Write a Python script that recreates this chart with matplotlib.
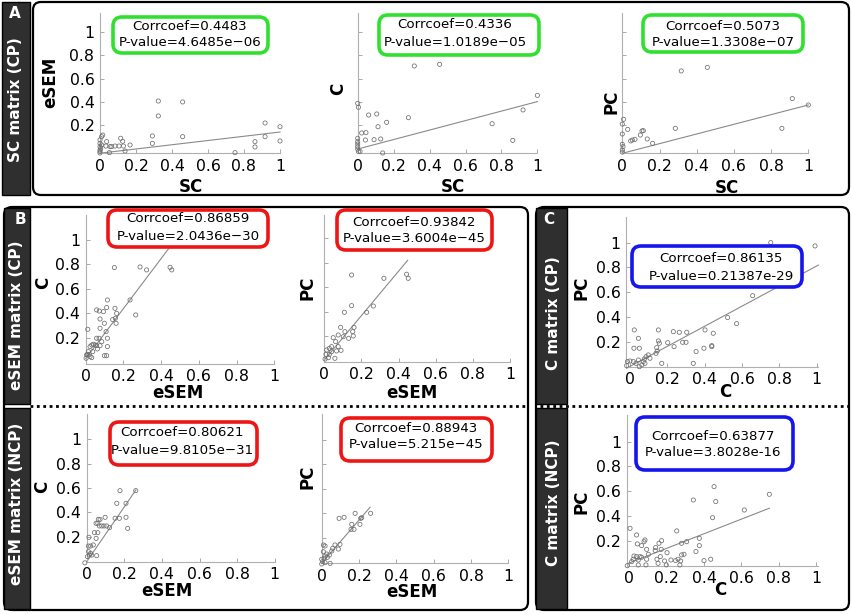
import matplotlib
matplotlib.use("Agg")
import matplotlib.pyplot as plt
from matplotlib.patches import FancyBboxPatch, Rectangle
import numpy as np

plt.rcParams['font.family'] = ['DejaVu Sans']

# ---------------- DATA ----------------
tick_vals = [0, 0.2, 0.4, 0.6, 0.8, 1]
tick_labels = ['0', '0.2', '0.4', '0.6', '0.8', '1']
ytick_vals = [0.2, 0.4, 0.6, 0.8, 1]
ytick_labels = ['0.2', '0.4', '0.6', '0.8', '1']

# Panel A: SC matrix (CP)
sc_esem_x = [0.324, 0.324, 0.459, 0.459, 0.291, 0.291, 0.917, 0.917, 1.0, 1.0, 0.861, 0.861, 0.75,
             0.139, 0.167, 0.130, 0.115, 0.126, 0.106, 0.083, 0.065, 0.056, 0.037, 0.033, 0.015,
             0.009, 0.052, 0, 0, 0, 0, 0, 0, 0.004, 0.009]
sc_esem_y = [0.406, 0.277, 0.398, 0.098, 0.104, 0.040, 0.216, 0.098, 0.184, 0.061, 0.055, 0.009, -0.04,
             -0.026, 0.026, 0.017, 0.084, 0.058, 0.017, 0.017, 0.012, 0.012, 0.055, 0.017, 0.112,
             0.098, -0.04, 0.07, 0.04, 0.012, -0.017, -0.03, -0.043, -0.003, 0.026]

sc_c_x = [0.315, 0.456, 1.0, 0.920, 0.748, 0.863, 0.282, 0.161, 0.106, 0.061, 0.113, 0.022, 0.046,
          0.043, 0.091, 0.128, 0.139, 0, 0.004, 0, 0, 0, 0, 0, 0.004, 0.013]
sc_c_y = [0.709, 0.723, 0.455, 0.329, 0.210, 0.066, 0.262, 0.222, 0.294, 0.285, 0.184, 0.130, 0.133,
          0.069, 0.072, 0.078, -0.043, 0.386, 0.352, 0.084, 0.055, 0.035, 0.012, -0.009, -0.03, -0.03]

sc_pc_x = [0.317, 0.457, 0.914, 1.0, 0.858, 0.285, 0.163, 0.134, 0.113, 0.106, 0.097, 0.068, 0.054,
           0.045, 0.029, 0.007, 0, 0, 0, 0.004, 0, 0]
sc_pc_y = [0.666, 0.697, 0.427, 0.372, 0.170, 0.170, 0.040, 0.078, 0.150, 0.147, 0.112, 0.075, 0.069,
           0.061, 0.161, 0.248, 0.207, 0.121, 0.032, 0.012, -0.017, -0.035]

# Panel B: eSEM matrix (CP)
esem_c_cp_x = [0.152, 0.288, 0.323, 0.447, 0.456, 0.235, 0.265, 0.115, 0.111, 0.155, 0.164, 0.157,
               0.161, 0.143, 0.094, 0.058, 0.072, 0.076, 0.076, 0.099, 0.108, 0.115, 0.115, 0.099,
               0.111, 0.011, 0.058, 0.071, 0.085, 0.076, 0.058, 0.041, 0.032, 0.023, 0.037, 0.014,
               0.009, 0.019, 0.002, 0.023, 0.032, 0.005, 0.051, 0.062]
esem_c_cp_y = [0.772, 0.777, 0.753, 0.774, 0.753, 0.508, 0.386, 0.508, 0.446, 0.440, 0.399, 0.359,
               0.318, 0.348, 0.413, 0.427, 0.418, 0.353, 0.277, 0.318, 0.250, 0.196, 0.128, 0.054,
               0.054, 0.269, 0.196, 0.196, 0.168, 0.136, 0.136, 0.147, 0.141, 0.128, 0.087, 0.087,
               0.065, 0.065, 0.033, 0.046, 0.038, 0.060, 0.141, 0.109]

esem_pc_cp_x = [0.147, 0.321, 0.443, 0.452, 0.147, 0.228, 0.264, 0.108, 0.088, 0.160, 0.153, 0.156,
                0.131, 0.111, 0.102, 0.075, 0.048, 0.061, 0.090, 0.066, 0.039, 0.027, 0.013, 0.009,
                0.027, 0.022, 0.004, 0.057, 0.039, 0.075]
esem_pc_cp_y = [0.701, 0.674, 0.707, 0.674, 0.451, 0.397, 0.448, 0.397, 0.274, 0.274, 0.239, 0.204,
                0.185, 0.239, 0.198, 0.212, 0.190, 0.158, 0.087, 0.082, 0.117, 0.103, 0.090, 0.054,
                0.054, 0.027, 0.016, 0.022, 0.076, 0.117]

# Panel B: eSEM matrix (NCP)
esem_c_ncp_x = [-0.01, 0.177, 0.261, 0.160, 0.209, 0.209, 0.218, 0.151, 0.174, 0.121, 0.098, 0.071,
                0.062, 0.059, 0.050, 0.067, 0.080, 0.092, 0.106, 0.059, 0.041, 0.050, 0.012, 0.035,
                0.021, 0.009, 0.009, 0.021, 0.027, 0.014, 0.053, 0.004]
esem_c_ncp_y = [-0.015, 0.578, 0.578, 0.474, 0.474, 0.359, 0.268, 0.351, 0.351, 0.274, 0.359, 0.342,
                0.342, 0.310, 0.310, 0.288, 0.288, 0.288, 0.288, 0.233, 0.233, 0.186, 0.195, 0.132,
                0.123, 0.123, 0.077, 0.063, 0.049, 0.049, 0.044, 0.036]

esem_pc_ncp_x = [0.262, 0.179, 0.214, 0.209, 0.120, 0.093, 0.161, 0.205, 0.157, 0.173, 0.098, 0.071,
                 0.089, 0.059, 0.054, 0.009, 0.018, 0.009, 0.027, 0.041, 0.018, 0.030, 0.013, 0,
                 0.005, 0.018, 0.045, 0]
esem_pc_ncp_y = [0.398, 0.398, 0.362, 0.357, 0.365, 0.357, 0.308, 0.308, 0.267, 0.267, 0.144, 0.139,
                 0.106, 0.112, 0.090, 0.139, 0.131, 0.084, 0.065, 0.057, 0.049, 0.038, 0.030, 0.022,
                 0.003, -0.005, -0.011, -0.016]

# Panel C: C matrix (CP)
c_pc_cp_x = [0.754, 0.991, 0.657, 0.491, 0.523, 0.571, 0.446, 0.438, 0.438, 0.402, 0.396, 0.354,
             0.339, 0.304, 0.300, 0.282, 0.264, 0.232, 0.236, 0.202, 0.152, 0.152, 0.157, 0.143,
             0.146, 0.139, 0.170, 0.107, 0.098, 0.086, 0.077, 0.071, 0.063, 0.080, 0.050, 0.045,
             0.050, 0.045, 0.023, 0.021, 0.018, 0, -0.014, 0.032, -0.018]
c_pc_cp_y = [1.0, 0.973, 0.571, 0.652, 0.394, 0.345, 0.267, 0.167, 0.159, 0.294, 0.146, 0.119,
             0.024, 0.275, 0.194, 0.194, 0.275, 0.280, 0.159, 0.191, 0.294, 0.205, 0.186, 0.151,
             0.124, 0.105, 0.024, 0.065, 0.092, 0.078, 0.059, 0.038, 0.011, 0.024, -0.003, 0.051,
             0.146, 0.226, 0.294, 0.146, 0.038, 0.043, 0.038, 0.024, 0.005]

# Panel C: C matrix (NCP)
c_pc_ncp_x = [0.454, 0.463, 0.343, 0.75, 0.616, 0.446, 0.254, 0.375, 0.375, 0.357, 0.307, 0.280,
              0.293, 0.280, 0.275, 0.271, 0.436, 0.400, 0.173, 0.159, 0.141, 0.139, 0.171, 0.202,
              0.166, 0.148, 0.154, 0.189, 0.198, 0.223, 0.248, 0.261, 0.084, 0.079, 0.066, 0.043,
              0.039, 0.004, 0.093, 0.102, 0.093, 0.089, 0.057, 0.039, 0.025, 0.021, 0.013, 0.048,
              0.066, 0.048, -0.011]
c_pc_ncp_y = [0.636, 0.515, 0.528, 0.574, 0.447, 0.385, 0.278, 0.218, 0.159, 0.111, 0.191, 0.178,
              0.089, 0.084, 0.035, 0.003, 0.049, 0.038, 0.199, 0.178, 0.143, 0.119, 0.129, 0.102,
              0.070, 0.049, 0.016, 0.035, 0.003, 0.043, 0.038, 0.049, 0.205, 0.191, 0.159, 0.173,
              0.245, 0.299, 0.129, 0.089, 0.049, 0.003, 0.070, 0.070, 0.075, 0.049, 0.030, 0.043,
              0.065, 0.003, -0.003]

# regression lines: (x_start, x_end, slope, intercept)
fit_A1 = (0.0, 1.0, 0.183, -0.045)
fit_A2 = (0.0, 1.0, 0.41, -0.009)
fit_A3 = (0.0, 1.0, 0.418, -0.046)
fit_B1 = (0.0, 0.456, 2.04, 0.03)
fit_B2 = (0.0, 0.449, 1.81, 0.008)
fit_B3 = (0.0, 0.262, 2.25, -0.005)
fit_B4 = (0.0, 0.259, 1.77, -0.011)
fit_C1 = (-0.018, 1.009, 0.812, -0.001)
fit_C2 = (-0.005, 0.75, 0.59, 0.019)

corr_A = ['0.4483', '0.4336', '0.5073']
pval_A = ['4.6485e\u221206', '1.0189e\u221205', '1.3308e\u221207']
corr_B = ['0.86859', '0.93842', '0.80621', '0.88943']
pval_B = ['2.0436e\u221230', '3.6004e\u221245', '9.8105e\u221231', '5.215e\u221245']
corr_C = ['0.86135', '0.63877']
pval_C = ['0.21387e-29', '3.8028e-16']

side_labels = ['SC matrix (CP)', 'eSEM matrix (CP)', 'eSEM matrix (NCP)', 'C matrix (CP)', 'C matrix (NCP)']
panel_letters = ['A', 'B', 'C']

# ---------------- FIGURE ----------------
W, H = 852, 615
fig = plt.figure(figsize=(W / 100, H / 100), dpi=100)
fig.patch.set_facecolor('white')

bg = fig.add_axes([0, 0, 1, 1])
bg.set_xlim(0, W)
bg.set_ylim(H, 0)
bg.axis('off')
bg.set_zorder(0)


def rbox(ax, x0, y0, x1, y1, ec='black', lw=1.6, r=8, fc='white', z=1):
    p = FancyBboxPatch((x0, y0), x1 - x0, y1 - y0,
                       boxstyle=f"round,pad=0,rounding_size={r}",
                       ec=ec, fc=fc, lw=lw, zorder=z)
    ax.add_patch(p)


# panel frames
rbox(bg, 33, 2, 849, 195)
rbox(bg, 4, 207, 528, 610)
rbox(bg, 536, 207, 849, 610)

side_fc = '#2f2f2f'
sidebars = [(2, 2, 30, 195), (4, 208, 30, 404), (4, 408, 30, 609),
            (536, 208, 567, 404), (536, 408, 567, 609)]
side_centers = [(16, 100), (17, 315), (17, 504), (553, 313), (553, 503)]
for (x0, y0, x1, y1), lab, (cx, cy) in zip(sidebars, side_labels, side_centers):
    bg.add_patch(Rectangle((x0, y0), x1 - x0, y1 - y0, fc=side_fc, ec='black', lw=1.0, zorder=2))
    bg.text(cx, cy, lab, color='white', fontsize=11, fontweight='bold', rotation=90,
            ha='center', va='center', zorder=3)

for lt, (lx, ly) in zip(panel_letters, [(15, 13), (20, 219), (549, 219)]):
    bg.text(lx, ly, lt, color='white', fontsize=11, fontweight='bold', ha='center', va='center', zorder=3)

# dotted separators
bg.plot([30, 527], [406, 406], color='black', lw=2.0, ls=(0, (1, 1.3)), zorder=3)
bg.plot([540, 848], [406, 406], color='black', lw=2.0, ls=(0, (1, 1.3)), zorder=3)


def make_axes(x0, sx, y0, sy, xlim, ylim):
    left = x0 + xlim[0] * sx
    right = x0 + xlim[1] * sx
    bottom = y0 - ylim[0] * sy
    top = y0 - ylim[1] * sy
    ax = fig.add_axes([left / W, 1 - bottom / H, (right - left) / W, (bottom - top) / H])
    ax.set_xlim(*xlim)
    ax.set_ylim(*ylim)
    ax.patch.set_alpha(0)
    ax.set_zorder(5)
    for s in ['top', 'right']:
        ax.spines[s].set_visible(False)
    for s in ['left', 'bottom']:
        ax.spines[s].set_color('#b0b0b0')
        ax.spines[s].set_linewidth(0.8)
    ax.tick_params(direction='in', length=3, width=0.6, color='#9a9a9a',
                   labelsize=11.3, pad=4, labelcolor='black')
    ax._px = (left, right, top, bottom)
    return ax


def set_labels(ax, xl, yl, xpos, ypos):
    left, right, top, bottom = ax._px
    ax.set_xlabel(xl, fontsize=12, fontweight='bold')
    ax.set_ylabel(yl, fontsize=12, fontweight='bold')
    ax.xaxis.set_label_coords((xpos[0] - left) / (right - left), (bottom - xpos[1]) / (bottom - top))
    ax.yaxis.set_label_coords((ypos[0] - left) / (right - left), (bottom - ypos[1]) / (bottom - top))
    ax.xaxis.label.set_va('center')
    ax.xaxis.label.set_ha('center')
    ax.yaxis.label.set_va('center')
    ax.yaxis.label.set_ha('center')


specs = [
    (100, 180, 148, 115.7, (0, 1), (-0.043, 1.167), sc_esem_x, sc_esem_y, fit_A1, 'SC', 'eSEM', (191, 187), (50, 82), True),
    (357.7, 179.7, 148, 115.7, (0, 1), (-0.043, 1.167), sc_c_x, sc_c_y, fit_A2, 'SC', 'C', (453, 187), (338, 89), False),
    (622.3, 186, 148, 115.7, (0, 1), (-0.043, 1.167), sc_pc_x, sc_pc_y, fit_A3, 'SC', 'PC', (727, 188), (612, 102), False),
    (85.7, 188.7, 362.3, 122.7, (0, 1), (-0.01, 1.2), esem_c_cp_x, esem_c_cp_y, fit_B1, 'eSEM', 'C', (178, 393), (43, 283), True),
    (324.3, 185.7, 361, 122.7, (0, 1), (-0.005, 1.19), esem_pc_cp_x, esem_pc_cp_y, fit_B2, 'eSEM', 'PC', (412, 393), (308, 288), False),
    (86.7, 188, 561, 121.7, (0, 1), (-0.006, 1.21), esem_c_ncp_x, esem_c_ncp_y, fit_B3, 'eSEM', 'C', (167, 591), (42, 487), True),
    (321.7, 186.7, 562, 122.3, (0, 1), (-0.011, 1.21), esem_pc_ncp_x, esem_pc_ncp_y, fit_B4, 'eSEM', 'PC', (412, 592), (308, 477), False),
    (630, 186.7, 366.3, 123.7, (-0.02, 1.009), (-0.003, 1.21), c_pc_cp_x, c_pc_cp_y, fit_C1, 'C', 'PC', (725, 392), (582, 288), True),
    (629.3, 186.7, 565.3, 123.7, (-0.014, 1.01), (-0.003, 1.215), c_pc_ncp_x, c_pc_ncp_y, fit_C2, 'C', 'PC', (720, 590), (582, 502), True),
]

for (x0, sx, y0, sy, xlim, ylim, xs, ys, fit, xl, yl, xlp, ylp, showy) in specs:
    ax = make_axes(x0, sx, y0, sy, xlim, ylim)
    ax.scatter(xs, ys, s=9, facecolors='none', edgecolors='#6e6e6e', linewidths=0.55, clip_on=False, zorder=3)
    fx = np.array([fit[0], fit[1]])
    ax.plot(fx, fit[2] * fx + fit[3], color='#8a8a8a', lw=0.8, zorder=2, clip_on=False)
    ax.set_xticks(tick_vals)
    ax.set_xticklabels(tick_labels)
    ax.set_yticks(ytick_vals)
    if showy:
        ax.set_yticklabels(ytick_labels)
    else:
        ax.set_yticklabels([])
    set_labels(ax, xl, yl, xlp, ylp)

# overlay for correlation boxes
ov = fig.add_axes([0, 0, 1, 1])
ov.set_xlim(0, W)
ov.set_ylim(H, 0)
ov.axis('off')
ov.patch.set_alpha(0)
ov.set_zorder(10)

green, red, blue = '#2fe02f', '#ee1515', '#1515ee'
boxes = [
    ((113, 17, 268, 53), (190, 27, 43), green, corr_A[0], pval_A[0]),
    ((379, 15, 539, 55), (455, 25, 42), green, corr_A[1], pval_A[1]),
    ((643, 15, 803, 52), (723, 27, 43), green, corr_A[2], pval_A[2]),
    ((108, 210, 268, 247), (188, 219, 236), red, corr_B[0], pval_B[0]),
    ((337, 210, 492, 250), (414, 223, 239), red, corr_B[1], pval_B[1]),
    ((110, 422, 257, 465), (182, 433, 451), red, corr_B[2], pval_B[2]),
    ((341, 418, 492, 461), (416, 428, 444), red, corr_B[3], pval_B[3]),
    ((632, 246, 802, 287), (721, 259, 276), blue, corr_C[0], pval_C[0]),
    ((636, 417, 793, 470), (713, 436, 453), blue, corr_C[1], pval_C[1]),
]
for (x0, y0, x1, y1), (cx, ty1, ty2), col, cc, pv in boxes:
    rbox(ov, x0, y0, x1, y1, ec=col, lw=2.6, r=9, fc='white', z=1)
    ov.text(cx, ty1, f'Corrcoef={cc}', fontsize=9.6, ha='center', va='center', zorder=2)
    ov.text(cx, ty2, f'P-value={pv}', fontsize=9.6, ha='center', va='center', zorder=2)

fig.savefig('out.png', dpi=100, facecolor='white')
